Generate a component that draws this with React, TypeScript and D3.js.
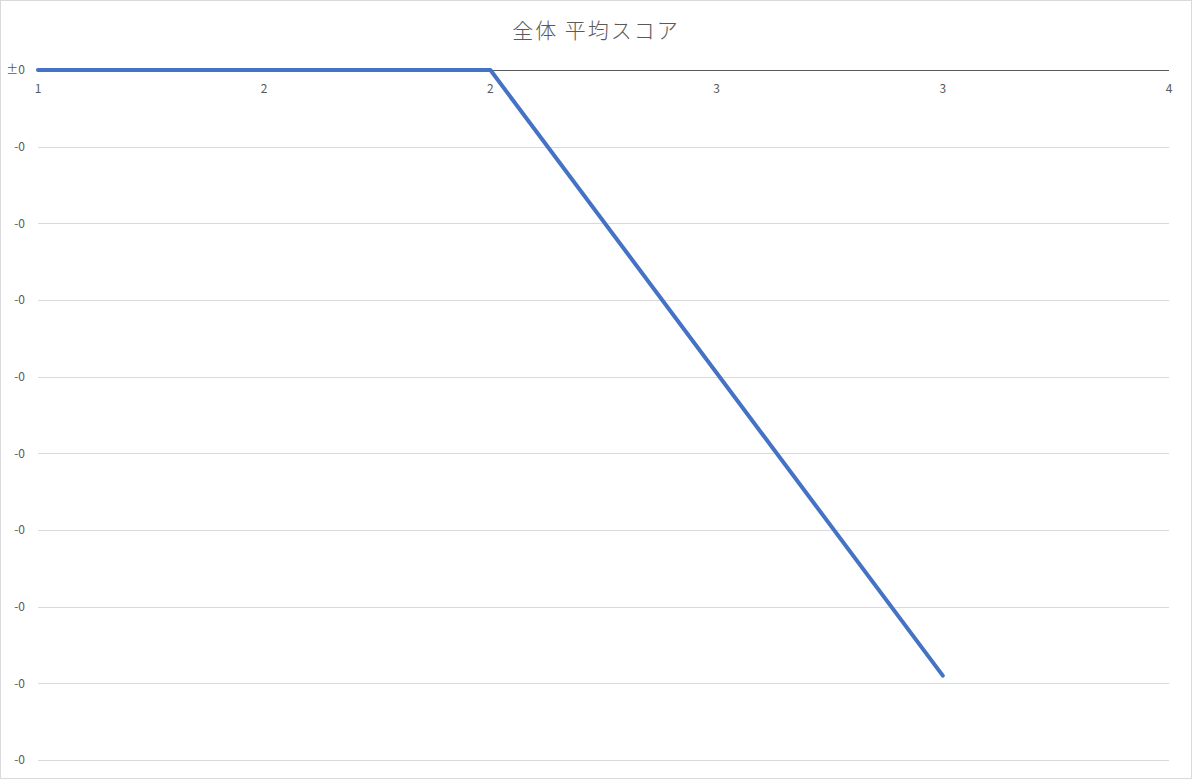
import React, { useRef, useEffect } from 'react';
import * as d3 from 'd3';

const chartTitle = '全体 平均スコア';
const xValues = [1, 2, 3];
const scoreValues = [0, 0, -0.395];
const xTickValues = [1, 1.5, 2, 2.5, 3, 3.5];
const yTickValues = [0, -0.05, -0.1, -0.15, -0.2, -0.25, -0.3, -0.35, -0.4, -0.45];

const App: React.FC = () => {
  const svgRef = useRef<SVGSVGElement | null>(null);

  useEffect(() => {
    document.body.style.margin = '0';
    if (!svgRef.current) return;

    const width = 1192;
    const height = 779;
    const margin = { top: 70, right: 23, bottom: 19, left: 38 };
    const textColour = '#595959';
    const font = '"Noto Sans CJK JP", "Noto Sans", sans-serif';

    const svg = d3.select(svgRef.current)
      .attr('width', width)
      .attr('height', height);

    svg.selectAll('*').remove();

    // outer chart border
    svg.append('rect')
      .attr('x', 0.5)
      .attr('y', 0.5)
      .attr('width', width - 1)
      .attr('height', height - 1)
      .attr('fill', '#fff')
      .attr('stroke', '#d9d9d9');

    const x = d3.scaleLinear()
      .domain([1, 3.5])
      .range([margin.left, width - margin.right]);

    const y = d3.scaleLinear()
      .domain([0, -0.45])
      .range([margin.top, height - margin.bottom]);

    // gridlines
    svg.append('g')
      .selectAll('line')
      .data(yTickValues.filter(v => v !== 0))
      .enter().append('line')
      .attr('x1', x(1))
      .attr('x2', x(3.5))
      .attr('y1', d => Math.round(y(d)) + 0.5)
      .attr('y2', d => Math.round(y(d)) + 0.5)
      .attr('stroke', '#d9d9d9')
      .attr('stroke-width', 1);

    // horizontal axis sits at zero
    svg.append('line')
      .attr('x1', x(1))
      .attr('x2', x(3.5))
      .attr('y1', Math.round(y(0)) + 0.5)
      .attr('y2', Math.round(y(0)) + 0.5)
      .attr('stroke', '#595959')
      .attr('stroke-width', 1);

    const yFormat = (v: number) => (v === 0 ? '±0' : '-' + Math.round(Math.abs(v)));

    svg.append('g')
      .selectAll('text')
      .data(yTickValues)
      .enter().append('text')
      .attr('x', 25)
      .attr('y', d => y(d))
      .attr('dy', '0.35em')
      .attr('text-anchor', 'end')
      .attr('font-family', font)
      .attr('font-size', 12)
      .attr('fill', textColour)
      .text(d => yFormat(d));

    svg.append('g')
      .selectAll('text')
      .data(xTickValues)
      .enter().append('text')
      .attr('x', d => x(d))
      .attr('y', y(0) + 19)
      .attr('dy', '0.35em')
      .attr('text-anchor', 'middle')
      .attr('font-family', font)
      .attr('font-size', 12)
      .attr('fill', textColour)
      .text(d => String(Math.round(d)));

    const points = xValues.map((v, i) => [v, scoreValues[i]] as [number, number]);

    const line = d3.line<[number, number]>()
      .x(d => x(d[0]))
      .y(d => y(d[1]));

    svg.append('path')
      .datum(points)
      .attr('d', line)
      .attr('fill', 'none')
      .attr('stroke', '#4472c4')
      .attr('stroke-width', 4)
      .attr('stroke-linejoin', 'round')
      .attr('stroke-linecap', 'round');

    svg.append('text')
      .attr('x', width / 2)
      .attr('y', 31)
      .attr('dy', '0.35em')
      .attr('text-anchor', 'middle')
      .attr('font-family', font)
      .attr('font-size', 21)
      .attr('font-weight', 300)
      .attr('letter-spacing', '2px')
      .attr('fill', textColour)
      .text(chartTitle);
  }, []);

  return (
    <div style={{ width: '1192px', height: '779px' }}>
      <svg ref={svgRef} style={{ display: 'block' }}></svg>
    </div>
  );
};

export default App;
